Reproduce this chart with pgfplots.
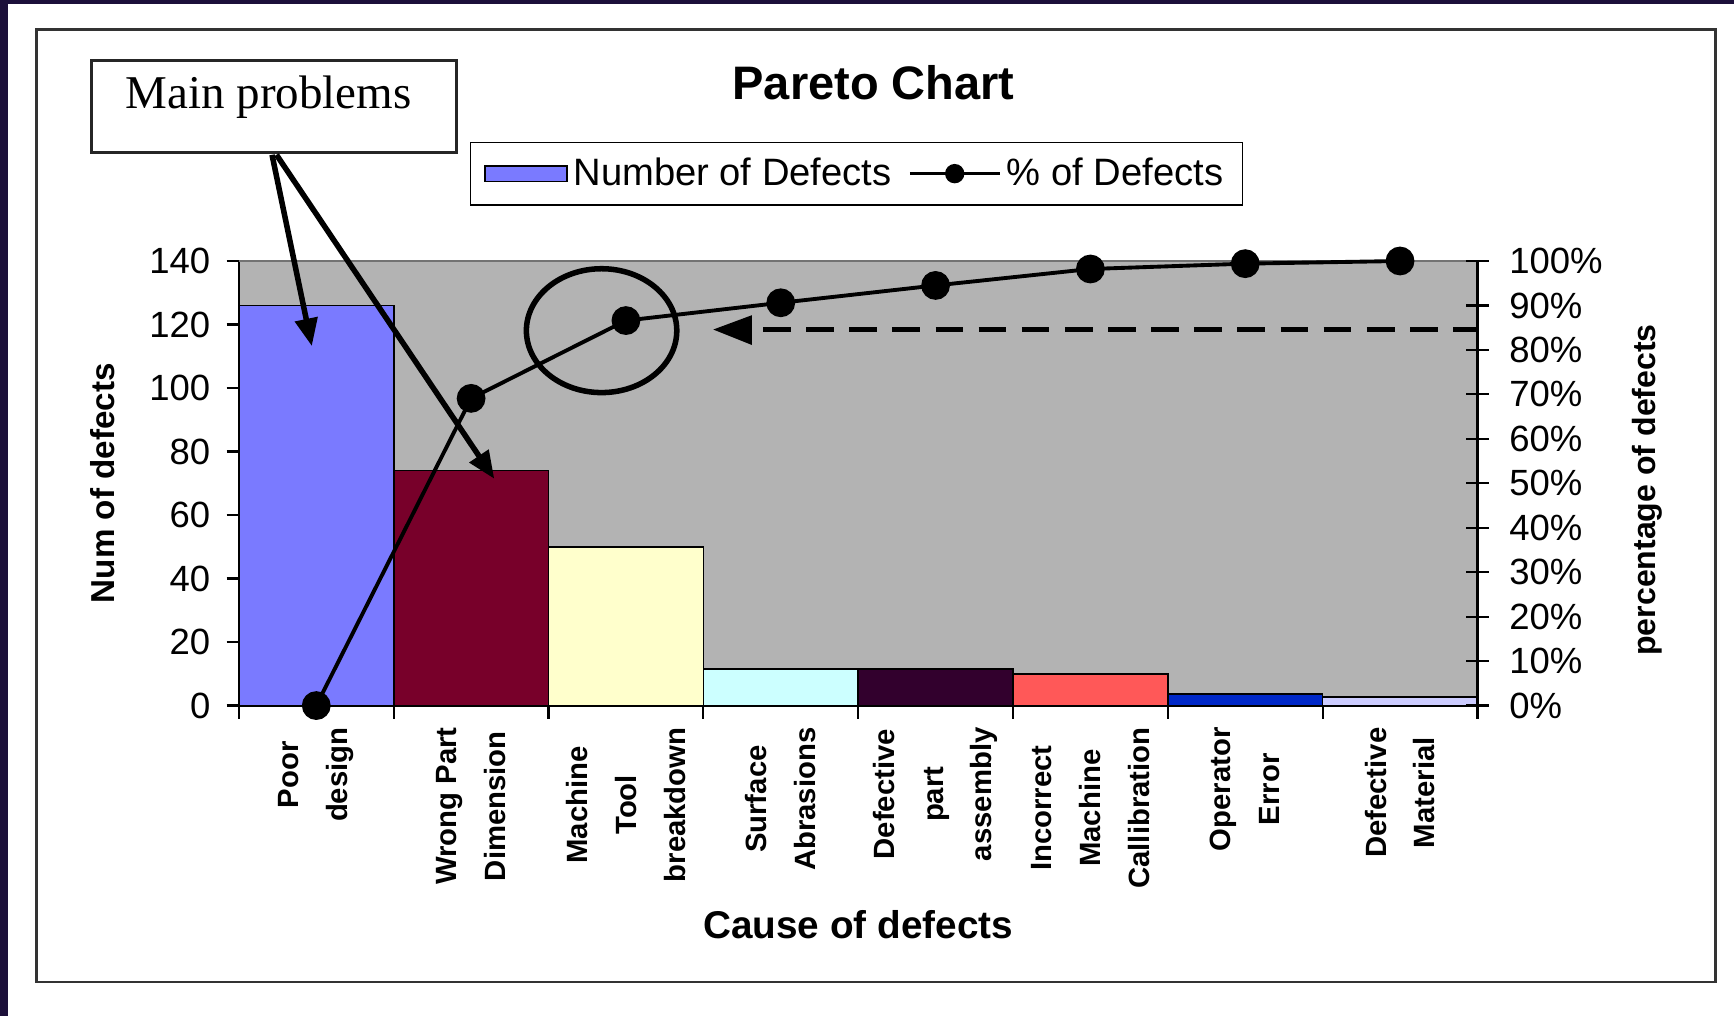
\documentclass[border=0pt]{standalone}
\usepackage{fontspec}
\setmainfont{Liberation Sans}
\newfontfamily\seriffont{Liberation Serif}
\usepackage{pgfplots}
\pgfplotsset{compat=1.18}
\usetikzlibrary{arrows.meta}

\definecolor{bgdark}{RGB}{28,16,58}
\definecolor{plotgray}{RGB}{179,179,179}
\definecolor{cA}{RGB}{122,122,255}
\definecolor{cB}{RGB}{120,0,42}
\definecolor{cC}{RGB}{255,255,204}
\definecolor{cD}{RGB}{204,255,255}
\definecolor{cE}{RGB}{50,0,45}
\definecolor{cF}{RGB}{255,88,88}
\definecolor{cG}{RGB}{0,40,200}
\definecolor{cH}{RGB}{204,204,255}

\pgfplotsset{
  mybar/.style={ybar, bar width=1, bar shift=0pt, draw=black, line width=0.6pt, fill=#1},
}

\begin{document}
\begin{tikzpicture}
\begin{scope}[x=0.4pt,y=-0.4pt]
\path[use as bounding box] (0,0) rectangle (1568,919);
\fill[bgdark] (0,0) rectangle (1568,919);
\fill[white] (7.5,3.6) rectangle (1568,919);
\draw[black!80, line width=1pt] (33,27) rectangle (1551,888);
\end{scope}

\begin{axis}[
  at={(86.4pt,-255.2pt)}, anchor=south west,
  width=448pt, height=160.8pt, scale only axis,
  xmin=-0.5, xmax=7.5, ymin=0, ymax=140,
  axis x line*=bottom, axis y line*=left,
  axis line style={line width=0.8pt, -},
  axis background/.style={fill=plotgray},
  ytick={0,20,...,140},
  xtick={0,...,7},
  xticklabels={{Poor\\design},{Wrong Part\\Dimension},{Machine\\Tool\\breakdown},{Surface\\Abrasions},{Defective\\part\\assembly},{Incorrect\\Machine\\Callibration},{Operator\\Error},{Defective\\Material}},
  minor xtick={-0.5,0.5,...,7.5},
  tick align=outside,
  major tick length=4.4pt, minor tick length=4.8pt,
  major x tick style={draw=none},
  minor x tick style={black, line width=0.8pt},
  y tick style={black, line width=0.8pt},
  /pgf/number format/assume math mode=true,
  yticklabel style={font=\fontsize{13.2}{15}\selectfont, xshift=-2.4pt},
  xticklabel style={rotate=90, anchor=east, align=center, font=\fontsize{10.6}{17.6}\selectfont\bfseries},
  title={Pareto Chart},
  title style={at={(0.5125,1.363)}, anchor=center, font=\fontsize{17}{20}\selectfont\bfseries},
  xlabel={Cause of defects},
  xlabel style={at={(0.5,-0.4925)}, anchor=center, font=\fontsize{14}{17}\selectfont\bfseries},
  ylabel={Num of defects},
  ylabel style={at={(-0.1098,0.5)}, anchor=center, font=\fontsize{12}{14}\selectfont\bfseries},
  legend style={at={(0.4987,1.1965)}, anchor=center, draw=black, line width=0.6pt,
    font=\fontsize{13.8}{16.5}\selectfont, legend columns=2, inner xsep=5pt, inner ysep=3.5pt,
    /tikz/every even column/.append style={column sep=4pt}},
]
\addplot[mybar=cA, legend image code/.code={\draw[fill=cA,draw=black,line width=0.6pt] (0pt,-2.8pt) rectangle (29.6pt,2.8pt);}] coordinates {(0,126)};
\addlegendentry{Number of Defects}
\addplot[mybar=cB, forget plot] coordinates {(1,74)};
\addplot[mybar=cC, forget plot] coordinates {(2,50)};
\addplot[mybar=cD, forget plot] coordinates {(3,11.5)};
\addplot[mybar=cE, forget plot] coordinates {(4,11.6)};
\addplot[mybar=cF, forget plot] coordinates {(5,10)};
\addplot[mybar=cG, forget plot] coordinates {(6,3.7)};
\addplot[mybar=cH, forget plot] coordinates {(7,2.6)};
\addlegendimage{legend image code/.code={\draw[black,line width=1.3pt] (0pt,0pt) -- (32.4pt,0pt); \fill[black] (16.2pt,0pt) circle (3.2pt);}}
\addlegendentry{\% of Defects}
\draw[black!55, line width=0.6pt] (rel axis cs:0,1) -- (rel axis cs:1,1);
\end{axis}

\begin{axis}[
  at={(86.4pt,-255.2pt)}, anchor=south west,
  width=448pt, height=160.8pt, scale only axis,
  xmin=-0.5, xmax=7.5, ymin=0, ymax=100,
  axis x line=none, axis y line*=right,
  axis line style={line width=0.8pt, -},
  ytick={0,10,...,100},
  yticklabel={\pgfmathprintnumber{\tick}\%},
  ytick align=center, major tick length=8pt,
  y tick style={black, line width=0.8pt},
  /pgf/number format/assume math mode=true,
  yticklabel style={font=\fontsize{13.2}{15}\selectfont, xshift=4pt},
  ylabel={percentage of defects},
  ylabel style={at={(1.1375,0.485)}, anchor=center, font=\fontsize{11.6}{14}\selectfont\bfseries},
  clip=false,
]
\addplot[black, line width=1.4pt, mark=*, mark size=4.5pt, mark options={fill=black}]
  coordinates {(0,0) (1,69.1) (2,86.6) (3,90.6) (4,94.5) (5,98.2) (6,99.4) (7,100)};
\end{axis}

\begin{scope}[x=0.4pt,y=-0.4pt]
\draw[black!85, line width=1pt, fill=white] (83,55) rectangle (413,138);
\node at (243,88) {\seriffont\fontsize{17}{20}\selectfont Main problems};
\draw[line width=2pt, -{Triangle[length=10pt,width=8pt]}] (246,140) -- (282,313);
\draw[line width=2pt, -{Triangle[length=10pt,width=8pt]}] (250,140) -- (447,433);
\draw[line width=2pt] (544,299) ellipse [x radius=27.2pt, y radius=22.4pt];
\draw[line width=2pt, dash pattern=on 10pt off 5.6pt] (690,298) -- (1336,298);
\fill (645,298) -- (680,285) -- (680,312) -- cycle;
\end{scope}
\end{tikzpicture}
\end{document}
